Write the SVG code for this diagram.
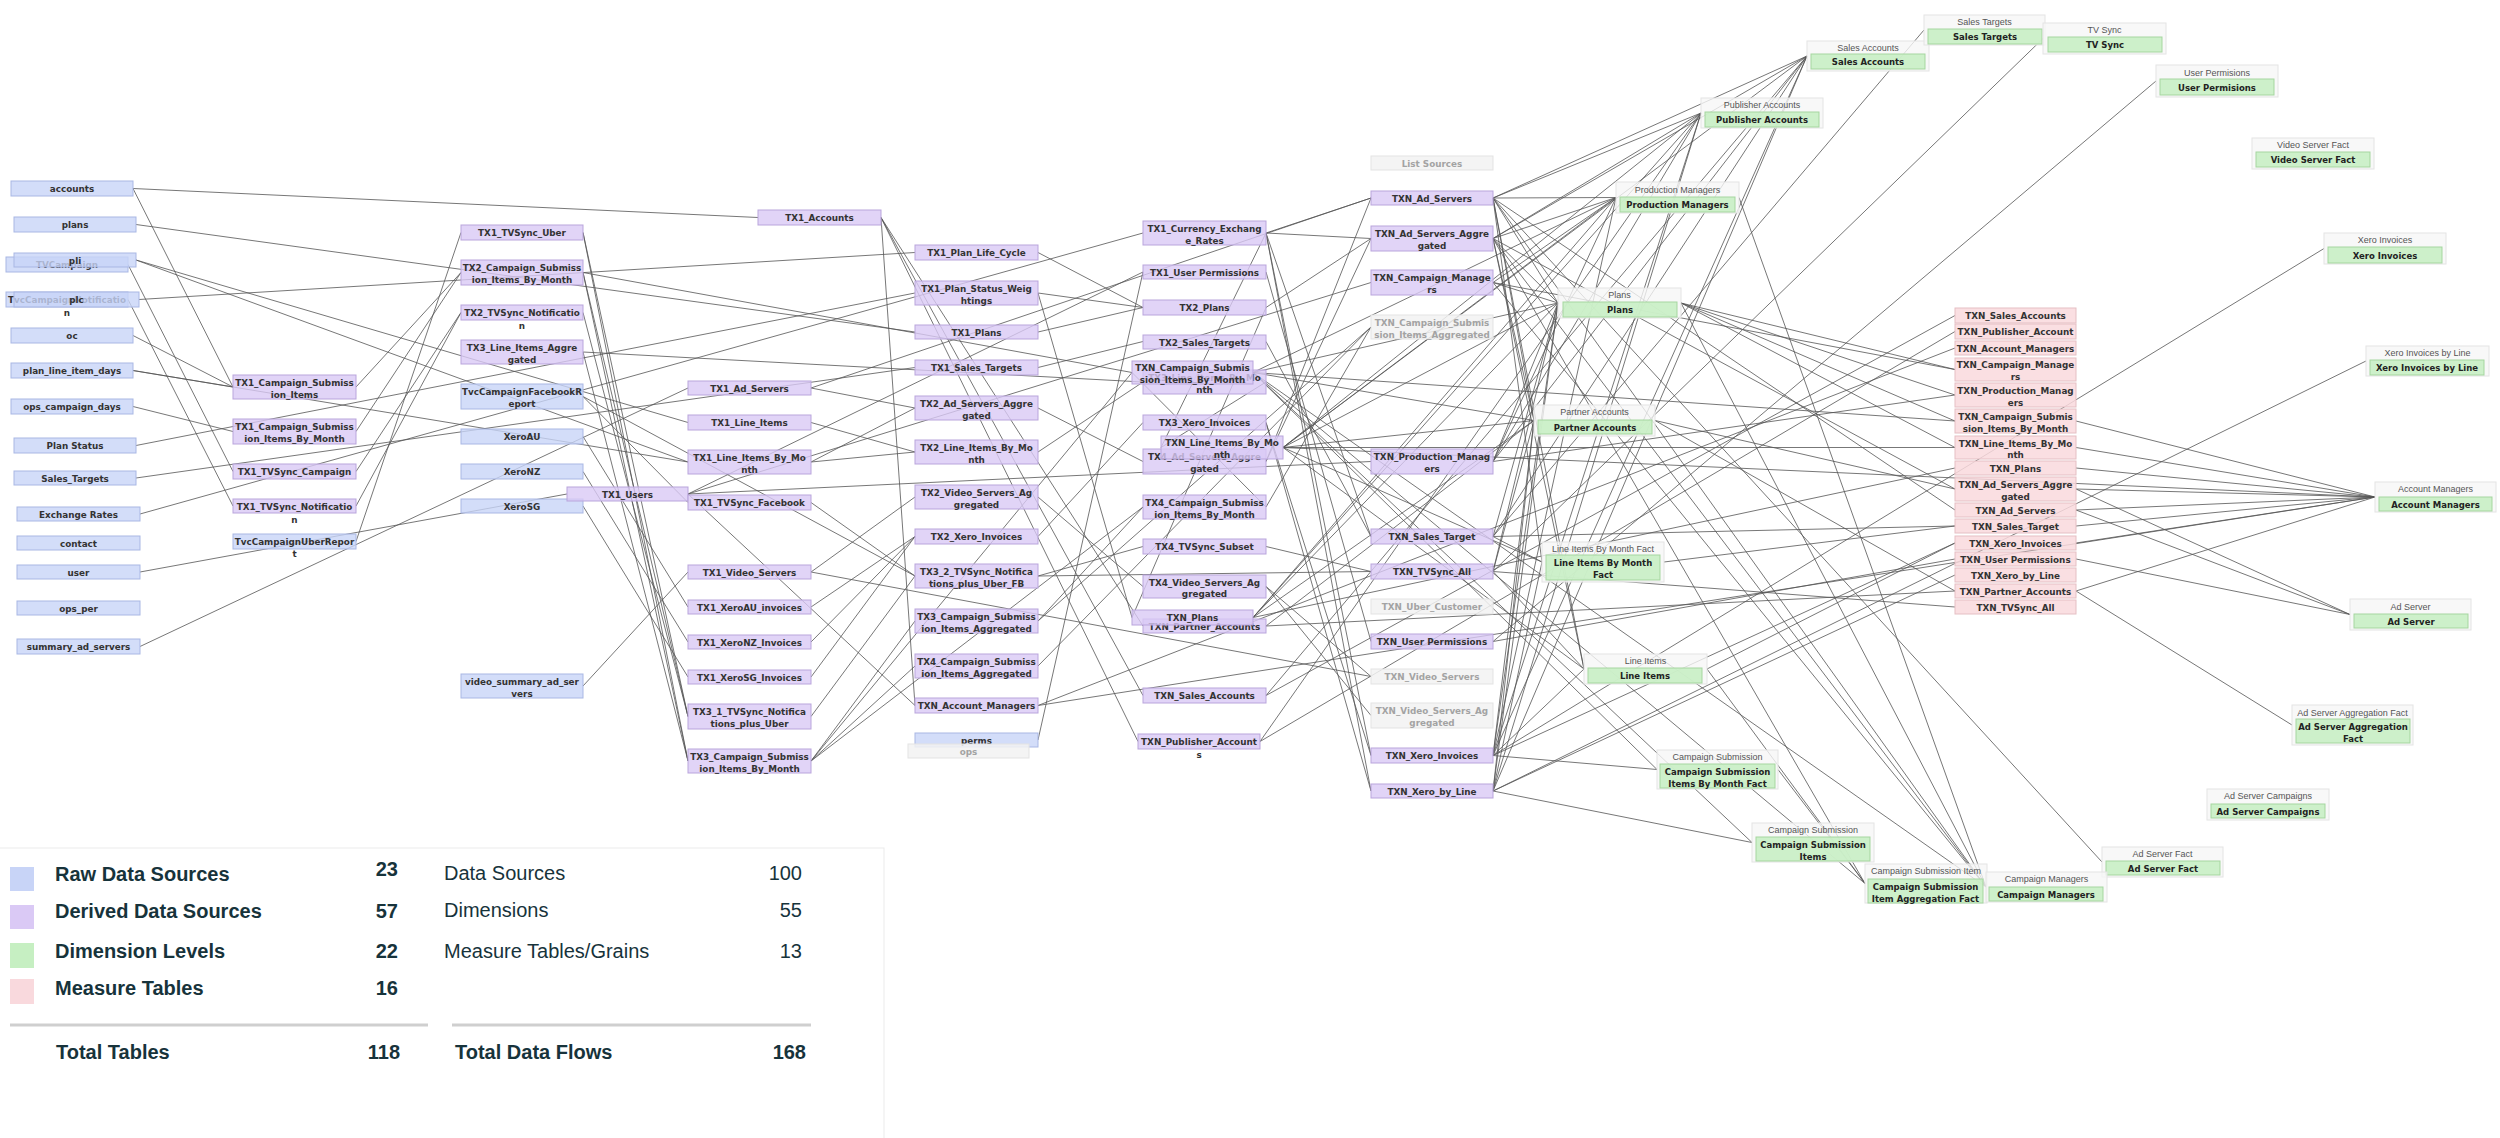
<svg xmlns="http://www.w3.org/2000/svg" width="2500" height="1138" viewBox="0 0 2500 1138">
<style>
.raw rect{fill:#c8d4f7;stroke:#a9b7e4;stroke-width:1;fill-opacity:.8}
.der rect{fill:#dac9f5;stroke:#b9a5dc;stroke-width:1;fill-opacity:.8}
.mea rect{fill:#f9d9dd;stroke:#e5bfc4;stroke-width:1;fill-opacity:.85}
.gry rect{fill:#f2f2f2;stroke:#e3e3e3;stroke-width:1;fill-opacity:.85}
.dim .o{fill:#f6f6f6;stroke:#e4e4e4;stroke-width:1;fill-opacity:.8}
.dim .i{fill:#c6efc2;stroke:#a5d69f;stroke-width:1;fill-opacity:.85}
text{font-family:"DejaVu Sans",Verdana,sans-serif;font-weight:bold;font-size:8.8px;fill:#333;text-anchor:middle}
.gry text{fill:#a3a3a3}
.dim text{font-size:8.5px;fill:#222}
.dim text.h{font-family:"Liberation Sans",Arial,sans-serif;font-weight:normal;font-size:9px;fill:#555}
.conn line{stroke:#555;stroke-width:1;stroke-opacity:.8}
.lg text{font-family:"Liberation Sans",Arial,sans-serif;fill:#17333b;text-anchor:start;font-size:20px}
.lg text.e{text-anchor:end}
.lg text.nb{font-weight:normal}
.lg .sep{stroke:#cfcfcf;stroke-width:3}
</style>
<rect x="0" y="0" width="2500" height="1138" fill="#ffffff"/>

<g id="connectors" class="conn">
<line x1="133" y1="188.5" x2="758" y2="217.5"/>
<line x1="133" y1="188.5" x2="233" y2="387"/>
<line x1="136" y1="224.5" x2="915" y2="332"/>
<line x1="136" y1="260" x2="688" y2="422.5"/>
<line x1="136" y1="260" x2="688" y2="462"/>
<line x1="128" y1="264.5" x2="233" y2="471.5"/>
<line x1="128" y1="299.5" x2="233" y2="506"/>
<line x1="139" y1="299.5" x2="915" y2="252.5"/>
<line x1="133" y1="335.5" x2="233" y2="387"/>
<line x1="133" y1="370.5" x2="233" y2="387"/>
<line x1="133" y1="370.5" x2="688" y2="462"/>
<line x1="133" y1="406.5" x2="233" y2="431.5"/>
<line x1="136" y1="445.5" x2="915" y2="293"/>
<line x1="136" y1="478" x2="915" y2="367.5"/>
<line x1="140" y1="514" x2="1143" y2="233"/>
<line x1="140" y1="572" x2="567" y2="494"/>
<line x1="140" y1="646.5" x2="688" y2="388"/>
<line x1="356" y1="541.5" x2="461" y2="232.5"/>
<line x1="583" y1="396.5" x2="688" y2="502.5"/>
<line x1="583" y1="396.5" x2="915" y2="576"/>
<line x1="583" y1="436.5" x2="688" y2="607"/>
<line x1="583" y1="471.5" x2="688" y2="642"/>
<line x1="583" y1="506" x2="688" y2="677"/>
<line x1="583" y1="686" x2="688" y2="572"/>
<line x1="1038" y1="740" x2="1143" y2="272"/>
<line x1="356" y1="387" x2="461" y2="272.5"/>
<line x1="356" y1="431.5" x2="461" y2="272.5"/>
<line x1="356" y1="471.5" x2="461" y2="312.5"/>
<line x1="356" y1="506" x2="461" y2="312.5"/>
<line x1="583" y1="232.5" x2="688" y2="716.5"/>
<line x1="583" y1="312.5" x2="688" y2="716.5"/>
<line x1="583" y1="272.5" x2="688" y2="761"/>
<line x1="583" y1="352" x2="688" y2="761"/>
<line x1="583" y1="272.5" x2="1132" y2="372.5"/>
<line x1="583" y1="352" x2="1143" y2="382"/>
<line x1="583" y1="272.5" x2="688" y2="716.5"/>
<line x1="583" y1="232.5" x2="688" y2="761"/>
<line x1="688" y1="494" x2="1143" y2="272"/>
<line x1="688" y1="494" x2="1371" y2="461.5"/>
<line x1="688" y1="494" x2="1371" y2="282.5"/>
<line x1="688" y1="494" x2="915" y2="705.5"/>
<line x1="881" y1="217.5" x2="915" y2="705.5"/>
<line x1="881" y1="217.5" x2="1143" y2="695.5"/>
<line x1="881" y1="217.5" x2="1138" y2="741.5"/>
<line x1="881" y1="217.5" x2="1143" y2="626"/>
<line x1="811" y1="388" x2="915" y2="408"/>
<line x1="811" y1="388" x2="1371" y2="198"/>
<line x1="811" y1="422.5" x2="915" y2="452"/>
<line x1="811" y1="462" x2="915" y2="452"/>
<line x1="811" y1="462" x2="915" y2="408"/>
<line x1="811" y1="502.5" x2="915" y2="576"/>
<line x1="811" y1="572" x2="915" y2="497"/>
<line x1="811" y1="572" x2="1371" y2="676.5"/>
<line x1="811" y1="607" x2="915" y2="536.5"/>
<line x1="811" y1="642" x2="915" y2="536.5"/>
<line x1="811" y1="677" x2="915" y2="536.5"/>
<line x1="811" y1="716.5" x2="915" y2="576"/>
<line x1="811" y1="761" x2="915" y2="621"/>
<line x1="811" y1="761" x2="1143" y2="507"/>
<line x1="811" y1="761" x2="1132" y2="372.5"/>
<line x1="811" y1="761" x2="915" y2="666"/>
<line x1="1038" y1="252.5" x2="1143" y2="307.5"/>
<line x1="1038" y1="293" x2="1143" y2="307.5"/>
<line x1="1038" y1="332" x2="1143" y2="307.5"/>
<line x1="1038" y1="367.5" x2="1143" y2="341.5"/>
<line x1="1038" y1="408" x2="1143" y2="461.5"/>
<line x1="1038" y1="452" x2="1143" y2="382"/>
<line x1="1038" y1="497" x2="1143" y2="586.5"/>
<line x1="1038" y1="536.5" x2="1143" y2="422.5"/>
<line x1="1038" y1="576" x2="1143" y2="546.5"/>
<line x1="1038" y1="576" x2="1371" y2="571.5"/>
<line x1="1038" y1="621" x2="1143" y2="507"/>
<line x1="1038" y1="621" x2="1371" y2="327"/>
<line x1="1038" y1="666" x2="1371" y2="327"/>
<line x1="1038" y1="705.5" x2="1955" y2="348"/>
<line x1="1038" y1="705.5" x2="2375" y2="497"/>
<line x1="1038" y1="293" x2="1132" y2="617.5"/>
<line x1="1266" y1="233" x2="1371" y2="198"/>
<line x1="1266" y1="233" x2="1371" y2="238.5"/>
<line x1="1266" y1="233" x2="1371" y2="536.5"/>
<line x1="1266" y1="233" x2="1371" y2="755.5"/>
<line x1="1266" y1="233" x2="1371" y2="791"/>
<line x1="1266" y1="233" x2="1161" y2="447.5"/>
<line x1="1266" y1="272" x2="1371" y2="641.5"/>
<line x1="1266" y1="307.5" x2="1132" y2="617.5"/>
<line x1="1266" y1="307.5" x2="1371" y2="238.5"/>
<line x1="1266" y1="341.5" x2="1371" y2="536.5"/>
<line x1="1266" y1="382" x2="1161" y2="447.5"/>
<line x1="1266" y1="422.5" x2="1371" y2="755.5"/>
<line x1="1266" y1="422.5" x2="1371" y2="791"/>
<line x1="1266" y1="461.5" x2="1371" y2="238.5"/>
<line x1="1266" y1="461.5" x2="1371" y2="198"/>
<line x1="1266" y1="507" x2="1132" y2="372.5"/>
<line x1="1266" y1="507" x2="1371" y2="327"/>
<line x1="1266" y1="546.5" x2="1371" y2="571.5"/>
<line x1="1266" y1="586.5" x2="1371" y2="715.5"/>
<line x1="1266" y1="586.5" x2="1371" y2="676.5"/>
<line x1="1283" y1="447.5" x2="1955" y2="447.5"/>
<line x1="1283" y1="447.5" x2="1616" y2="197.5"/>
<line x1="1283" y1="447.5" x2="1558" y2="303"/>
<line x1="1283" y1="447.5" x2="1534" y2="420.5"/>
<line x1="1283" y1="447.5" x2="1542" y2="562"/>
<line x1="1283" y1="447.5" x2="1584" y2="669"/>
<line x1="1283" y1="447.5" x2="1701" y2="113"/>
<line x1="1283" y1="447.5" x2="1807" y2="56"/>
<line x1="1283" y1="447.5" x2="2375" y2="497"/>
<line x1="1253" y1="372.5" x2="1955" y2="421"/>
<line x1="1253" y1="372.5" x2="1657" y2="769.5"/>
<line x1="1253" y1="372.5" x2="1616" y2="197.5"/>
<line x1="1253" y1="372.5" x2="1558" y2="303"/>
<line x1="1253" y1="372.5" x2="1534" y2="420.5"/>
<line x1="1253" y1="372.5" x2="1752" y2="842.5"/>
<line x1="1253" y1="372.5" x2="1865" y2="883.5"/>
<line x1="1253" y1="372.5" x2="1986" y2="887"/>
<line x1="1253" y1="617.5" x2="1955" y2="468"/>
<line x1="1253" y1="617.5" x2="1558" y2="303"/>
<line x1="1253" y1="617.5" x2="1534" y2="420.5"/>
<line x1="1253" y1="617.5" x2="1616" y2="197.5"/>
<line x1="1253" y1="617.5" x2="1701" y2="113"/>
<line x1="1266" y1="626" x2="1955" y2="591"/>
<line x1="1266" y1="626" x2="1534" y2="420.5"/>
<line x1="1266" y1="695.5" x2="1955" y2="315.5"/>
<line x1="1266" y1="695.5" x2="1807" y2="56"/>
<line x1="1260" y1="741.5" x2="1955" y2="331.5"/>
<line x1="1260" y1="741.5" x2="1701" y2="113"/>
<line x1="1493" y1="198" x2="1955" y2="510"/>
<line x1="1493" y1="198" x2="2102" y2="862"/>
<line x1="1493" y1="198" x2="1616" y2="197.5"/>
<line x1="1493" y1="198" x2="1558" y2="303"/>
<line x1="1493" y1="198" x2="1534" y2="420.5"/>
<line x1="1493" y1="198" x2="1701" y2="113"/>
<line x1="1493" y1="198" x2="1807" y2="56"/>
<line x1="1493" y1="198" x2="1584" y2="669"/>
<line x1="1493" y1="198" x2="1542" y2="562"/>
<line x1="1493" y1="198" x2="1986" y2="887"/>
<line x1="1493" y1="238.5" x2="1955" y2="489"/>
<line x1="1493" y1="238.5" x2="1616" y2="197.5"/>
<line x1="1493" y1="238.5" x2="1558" y2="303"/>
<line x1="1493" y1="238.5" x2="1534" y2="420.5"/>
<line x1="1493" y1="238.5" x2="1701" y2="113"/>
<line x1="1493" y1="238.5" x2="1807" y2="56"/>
<line x1="1493" y1="238.5" x2="1584" y2="669"/>
<line x1="1493" y1="238.5" x2="1865" y2="883.5"/>
<line x1="1493" y1="238.5" x2="1986" y2="887"/>
<line x1="1493" y1="282.5" x2="1955" y2="369.5"/>
<line x1="1493" y1="282.5" x2="1616" y2="197.5"/>
<line x1="1493" y1="282.5" x2="1558" y2="303"/>
<line x1="1493" y1="282.5" x2="1986" y2="887"/>
<line x1="1493" y1="461.5" x2="1955" y2="395"/>
<line x1="1493" y1="461.5" x2="1616" y2="197.5"/>
<line x1="1493" y1="461.5" x2="1558" y2="303"/>
<line x1="1493" y1="461.5" x2="1701" y2="113"/>
<line x1="1493" y1="461.5" x2="1807" y2="56"/>
<line x1="1493" y1="536.5" x2="1955" y2="526"/>
<line x1="1493" y1="536.5" x2="1924" y2="30"/>
<line x1="1493" y1="536.5" x2="1807" y2="56"/>
<line x1="1493" y1="536.5" x2="1558" y2="303"/>
<line x1="1493" y1="536.5" x2="1542" y2="562"/>
<line x1="1493" y1="571.5" x2="1955" y2="607"/>
<line x1="1493" y1="571.5" x2="2043" y2="38.5"/>
<line x1="1493" y1="571.5" x2="1558" y2="303"/>
<line x1="1493" y1="571.5" x2="1534" y2="420.5"/>
<line x1="1493" y1="571.5" x2="1584" y2="669"/>
<line x1="1493" y1="641.5" x2="1955" y2="559"/>
<line x1="1493" y1="641.5" x2="2156" y2="81"/>
<line x1="1493" y1="755.5" x2="1955" y2="543"/>
<line x1="1493" y1="755.5" x2="2324" y2="248.5"/>
<line x1="1493" y1="755.5" x2="1558" y2="303"/>
<line x1="1493" y1="755.5" x2="1534" y2="420.5"/>
<line x1="1493" y1="755.5" x2="1584" y2="669"/>
<line x1="1493" y1="755.5" x2="1657" y2="769.5"/>
<line x1="1493" y1="755.5" x2="1616" y2="197.5"/>
<line x1="1493" y1="755.5" x2="1807" y2="56"/>
<line x1="1493" y1="755.5" x2="1701" y2="113"/>
<line x1="1493" y1="791" x2="1955" y2="575"/>
<line x1="1493" y1="791" x2="2366" y2="361"/>
<line x1="1493" y1="791" x2="1558" y2="303"/>
<line x1="1493" y1="791" x2="1534" y2="420.5"/>
<line x1="1493" y1="791" x2="1542" y2="562"/>
<line x1="1493" y1="791" x2="1752" y2="842.5"/>
<line x1="1493" y1="791" x2="1807" y2="56"/>
<line x1="1493" y1="791" x2="1701" y2="113"/>
<line x1="1681" y1="303" x2="1955" y2="369.5"/>
<line x1="1681" y1="303" x2="1955" y2="395"/>
<line x1="1681" y1="303" x2="1955" y2="421"/>
<line x1="1681" y1="303" x2="1955" y2="447.5"/>
<line x1="1681" y1="303" x2="1986" y2="887"/>
<line x1="1655" y1="420.5" x2="1955" y2="489"/>
<line x1="1655" y1="420.5" x2="1955" y2="591"/>
<line x1="1664" y1="562" x2="1955" y2="526"/>
<line x1="1707" y1="669" x2="1955" y2="543"/>
<line x1="1707" y1="669" x2="1865" y2="883.5"/>
<line x1="1778" y1="769.5" x2="1865" y2="883.5"/>
<line x1="1739" y1="197.5" x2="1986" y2="887"/>
<line x1="2076" y1="468" x2="2375" y2="497"/>
<line x1="2076" y1="489" x2="2375" y2="497"/>
<line x1="2076" y1="489" x2="2350" y2="614.5"/>
<line x1="2076" y1="510" x2="2375" y2="497"/>
<line x1="2076" y1="510" x2="2350" y2="614.5"/>
<line x1="2076" y1="543" x2="2375" y2="497"/>
<line x1="2076" y1="559" x2="2350" y2="614.5"/>
<line x1="2076" y1="591" x2="2375" y2="497"/>
<line x1="2076" y1="591" x2="2292" y2="725"/>
<line x1="2076" y1="447.5" x2="2375" y2="497"/>
<line x1="2076" y1="421" x2="2375" y2="497"/>
<line x1="2076" y1="526" x2="2375" y2="497"/>
</g>

<g id="nodes">
<g id="n-TVCampaign" class="raw"><rect x="6" y="257" width="122" height="15"/><text x="67" y="268">TVCampaign</text></g>
<g id="n-TvcCampaignNotification" class="raw"><rect x="6" y="292" width="122" height="15"/><text x="67" y="302.5">TvcCampaignNotificatio</text><text x="67" y="316">n</text></g>
<g id="n-accounts" class="raw"><rect x="11" y="181" width="122" height="15"/><text x="72" y="192">accounts</text></g>
<g id="n-plans" class="raw"><rect x="14" y="217" width="122" height="15"/><text x="75" y="228">plans</text></g>
<g id="n-pli" class="raw"><rect x="14" y="253" width="122" height="14"/><text x="75" y="263.5">pli</text></g>
<g id="n-plc" class="raw"><rect x="14" y="292" width="125" height="15"/><text x="76.5" y="302.5">plc</text></g>
<g id="n-oc" class="raw"><rect x="11" y="328" width="122" height="15"/><text x="72" y="339">oc</text></g>
<g id="n-plan_line_item_days" class="raw"><rect x="11" y="363" width="122" height="15"/><text x="72" y="374">plan_line_item_days</text></g>
<g id="n-ops_campaign_days" class="raw"><rect x="11" y="399" width="122" height="15"/><text x="72" y="410">ops_campaign_days</text></g>
<g id="n-plan_status" class="raw"><rect x="14" y="438" width="122" height="15"/><text x="75" y="449">Plan Status</text></g>
<g id="n-sales_targets_raw" class="raw"><rect x="14" y="471" width="122" height="14"/><text x="75" y="481.5">Sales_Targets</text></g>
<g id="n-exchange_rates" class="raw"><rect x="17" y="507" width="123" height="14"/><text x="78.5" y="517.5">Exchange Rates</text></g>
<g id="n-contact" class="raw"><rect x="17" y="536" width="123" height="14"/><text x="78.5" y="546.5">contact</text></g>
<g id="n-user" class="raw"><rect x="17" y="565" width="123" height="14"/><text x="78.5" y="575.5">user</text></g>
<g id="n-ops_per" class="raw"><rect x="17" y="601" width="123" height="14"/><text x="78.5" y="611.5">ops_per</text></g>
<g id="n-summary_ad_servers" class="raw"><rect x="17" y="639" width="123" height="15"/><text x="78.5" y="650">summary_ad_servers</text></g>
<g id="n-TvcCampaignUberReport" class="raw"><rect x="233" y="534" width="123" height="15"/><text x="294.5" y="544.5">TvcCampaignUberRepor</text><text x="294.5" y="557">t</text></g>
<g id="n-TvcCampaignFacebookReport" class="raw"><rect x="461" y="384" width="122" height="25"/><text x="522" y="394.5">TvcCampaignFacebookR</text><text x="522" y="406.5">eport</text></g>
<g id="n-XeroAU" class="raw"><rect x="461" y="429" width="122" height="15"/><text x="522" y="440">XeroAU</text></g>
<g id="n-XeroNZ" class="raw"><rect x="461" y="464" width="122" height="15"/><text x="522" y="475">XeroNZ</text></g>
<g id="n-XeroSG" class="raw"><rect x="461" y="499" width="122" height="14"/><text x="522" y="509.5">XeroSG</text></g>
<g id="n-video_summary_ad_servers" class="raw"><rect x="461" y="674" width="122" height="24"/><text x="522" y="684.5">video_summary_ad_ser</text><text x="522" y="696.5">vers</text></g>
<g id="n-perms" class="raw"><rect x="915" y="733" width="123" height="14"/><text x="976.5" y="743.5">perms</text></g>

<g id="n-TX1_Campaign_Submission_Items" class="der"><rect x="233" y="375" width="123" height="24"/><text x="294.5" y="385.5">TX1_Campaign_Submiss</text><text x="294.5" y="397.5">ion_Items</text></g>
<g id="n-TX1_Campaign_Submission_Items_By_Month" class="der"><rect x="233" y="419" width="123" height="25"/><text x="294.5" y="429.5">TX1_Campaign_Submiss</text><text x="294.5" y="441.5">ion_Items_By_Month</text></g>
<g id="n-TX1_TVSync_Campaign" class="der"><rect x="233" y="464" width="123" height="15"/><text x="294.5" y="475">TX1_TVSync_Campaign</text></g>
<g id="n-TX1_TVSync_Notification" class="der"><rect x="233" y="499" width="123" height="14"/><text x="294.5" y="509.5">TX1_TVSync_Notificatio</text><text x="294.5" y="522.5">n</text></g>
<g id="n-TX1_TVSync_Uber" class="der"><rect x="461" y="225" width="122" height="15"/><text x="522" y="236">TX1_TVSync_Uber</text></g>
<g id="n-TX2_Campaign_Submission_Items_By_Month" class="der"><rect x="461" y="260" width="122" height="25"/><text x="522" y="270.5">TX2_Campaign_Submiss</text><text x="522" y="282.5">ion_Items_By_Month</text></g>
<g id="n-TX2_TVSync_Notification" class="der"><rect x="461" y="305" width="122" height="15"/><text x="522" y="316">TX2_TVSync_Notificatio</text><text x="522" y="328.5">n</text></g>
<g id="n-TX3_Line_Items_Aggregated" class="der"><rect x="461" y="340" width="122" height="24"/><text x="522" y="350.5">TX3_Line_Items_Aggre</text><text x="522" y="362.5">gated</text></g>
<g id="n-TX1_Users" class="der"><rect x="567" y="487" width="121" height="14"/><text x="627.5" y="497.5">TX1_Users</text></g>
<g id="n-TX1_Accounts" class="der"><rect x="758" y="210" width="123" height="15"/><text x="819.5" y="221">TX1_Accounts</text></g>
<g id="n-TX1_Ad_Servers" class="der"><rect x="688" y="381" width="123" height="14"/><text x="749.5" y="391.5">TX1_Ad_Servers</text></g>
<g id="n-TX1_Line_Items" class="der"><rect x="688" y="415" width="123" height="15"/><text x="749.5" y="426">TX1_Line_Items</text></g>
<g id="n-TX1_Line_Items_By_Month" class="der"><rect x="688" y="450" width="123" height="24"/><text x="749.5" y="460.5">TX1_Line_Items_By_Mo</text><text x="749.5" y="472.5">nth</text></g>
<g id="n-TX1_TVSync_Facebook" class="der"><rect x="688" y="495" width="123" height="15"/><text x="749.5" y="506">TX1_TVSync_Facebook</text></g>
<g id="n-TX1_Video_Servers" class="der"><rect x="688" y="565" width="123" height="14"/><text x="749.5" y="575.5">TX1_Video_Servers</text></g>
<g id="n-TX1_XeroAU_invoices" class="der"><rect x="688" y="600" width="123" height="14"/><text x="749.5" y="610.5">TX1_XeroAU_invoices</text></g>
<g id="n-TX1_XeroNZ_Invoices" class="der"><rect x="688" y="635" width="123" height="14"/><text x="749.5" y="645.5">TX1_XeroNZ_Invoices</text></g>
<g id="n-TX1_XeroSG_Invoices" class="der"><rect x="688" y="670" width="123" height="14"/><text x="749.5" y="680.5">TX1_XeroSG_Invoices</text></g>
<g id="n-TX3_1_TVSync_Notifications_plus_Uber" class="der"><rect x="688" y="704" width="123" height="25"/><text x="749.5" y="714.5">TX3_1_TVSync_Notifica</text><text x="749.5" y="726.5">tions_plus_Uber</text></g>
<g id="n-TX3_Campaign_Submission_Items_By_Month" class="der"><rect x="688" y="749" width="123" height="24"/><text x="749.5" y="759.5">TX3_Campaign_Submiss</text><text x="749.5" y="771.5">ion_Items_By_Month</text></g>
<g id="n-TX1_Plan_Life_Cycle" class="der"><rect x="915" y="245" width="123" height="15"/><text x="976.5" y="256">TX1_Plan_Life_Cycle</text></g>
<g id="n-TX1_Plan_Status_Weightings" class="der"><rect x="915" y="281" width="123" height="24"/><text x="976.5" y="291.5">TX1_Plan_Status_Weig</text><text x="976.5" y="303.5">htings</text></g>
<g id="n-TX1_Plans" class="der"><rect x="915" y="325" width="123" height="14"/><text x="976.5" y="335.5">TX1_Plans</text></g>
<g id="n-TX1_Sales_Targets" class="der"><rect x="915" y="360" width="123" height="15"/><text x="976.5" y="371">TX1_Sales_Targets</text></g>
<g id="n-TX2_Ad_Servers_Aggregated" class="der"><rect x="915" y="396" width="123" height="24"/><text x="976.5" y="406.5">TX2_Ad_Servers_Aggre</text><text x="976.5" y="418.5">gated</text></g>
<g id="n-TX2_Line_Items_By_Month" class="der"><rect x="915" y="440" width="123" height="24"/><text x="976.5" y="450.5">TX2_Line_Items_By_Mo</text><text x="976.5" y="462.5">nth</text></g>
<g id="n-TX2_Video_Servers_Aggregated" class="der"><rect x="915" y="485" width="123" height="24"/><text x="976.5" y="495.5">TX2_Video_Servers_Ag</text><text x="976.5" y="507.5">gregated</text></g>
<g id="n-TX2_Xero_Invoices" class="der"><rect x="915" y="529" width="123" height="15"/><text x="976.5" y="540">TX2_Xero_Invoices</text></g>
<g id="n-TX3_2_TVSync_Notifications_plus_Uber_FB" class="der"><rect x="915" y="564" width="123" height="24"/><text x="976.5" y="574.5">TX3_2_TVSync_Notifica</text><text x="976.5" y="586.5">tions_plus_Uber_FB</text></g>
<g id="n-TX3_Campaign_Submission_Items_Aggregated" class="der"><rect x="915" y="609" width="123" height="24"/><text x="976.5" y="619.5">TX3_Campaign_Submiss</text><text x="976.5" y="631.5">ion_Items_Aggregated</text></g>
<g id="n-TX4_Campaign_Submission_Items_Aggregated" class="der"><rect x="915" y="654" width="123" height="24"/><text x="976.5" y="664.5">TX4_Campaign_Submiss</text><text x="976.5" y="676.5">ion_Items_Aggregated</text></g>
<g id="n-TXN_Account_Managers" class="der"><rect x="915" y="698" width="123" height="15"/><text x="976.5" y="709">TXN_Account_Managers</text></g>
<g id="n-TX1_Currency_Exchange_Rates" class="der"><rect x="1143" y="221" width="123" height="24"/><text x="1204.5" y="231.5">TX1_Currency_Exchang</text><text x="1204.5" y="243.5">e_Rates</text></g>
<g id="n-TX1_User_Permissions" class="der"><rect x="1143" y="265" width="123" height="14"/><text x="1204.5" y="275.5">TX1_User Permissions</text></g>
<g id="n-TX2_Plans" class="der"><rect x="1143" y="300" width="123" height="15"/><text x="1204.5" y="311">TX2_Plans</text></g>
<g id="n-TX2_Sales_Targets" class="der"><rect x="1143" y="335" width="123" height="14"/><text x="1204.5" y="345.5">TX2_Sales_Targets</text></g>
<g id="n-TX3_Line_Items_By_Month" class="der"><rect x="1143" y="370" width="123" height="24"/><text x="1204.5" y="380.5">TX3_Line_Items_By_Mo</text><text x="1204.5" y="392.5">nth</text></g>
<g id="n-TXN_Campaign_Submission_Items_By_Month" class="der"><rect x="1132" y="361" width="121" height="23"/><text x="1192.5" y="371">TXN_Campaign_Submis</text><text x="1192.5" y="382.5">sion_Items_By_Month</text></g>
<g id="n-TX3_Xero_Invoices" class="der"><rect x="1143" y="415" width="123" height="15"/><text x="1204.5" y="426">TX3_Xero_Invoices</text></g>
<g id="n-TX4_Ad_Servers_Aggregated" class="der"><rect x="1143" y="449" width="123" height="25"/><text x="1204.5" y="459.5">TX4_Ad_Servers_Aggre</text><text x="1204.5" y="471.5">gated</text></g>
<g id="n-TXN_Line_Items_By_Month" class="der"><rect x="1161" y="436" width="122" height="23"/><text x="1222" y="446">TXN_Line_Items_By_Mo</text><text x="1222" y="457.5">nth</text></g>
<g id="n-TX4_Campaign_Submission_Items_By_Month" class="der"><rect x="1143" y="495" width="123" height="24"/><text x="1204.5" y="505.5">TX4_Campaign_Submiss</text><text x="1204.5" y="517.5">ion_Items_By_Month</text></g>
<g id="n-TX4_TVSync_Subset" class="der"><rect x="1143" y="539" width="123" height="15"/><text x="1204.5" y="550">TX4_TVSync_Subset</text></g>
<g id="n-TX4_Video_Servers_Aggregated" class="der"><rect x="1143" y="575" width="123" height="23"/><text x="1204.5" y="585.5">TX4_Video_Servers_Ag</text><text x="1204.5" y="597">gregated</text></g>
<g id="n-TXN_Partner_Accounts" class="der"><rect x="1143" y="619" width="123" height="14"/><text x="1204.5" y="629.5">TXN_Partner_Accounts</text></g>
<g id="n-TXN_Plans" class="der"><rect x="1132" y="610" width="121" height="15"/><text x="1192.5" y="621">TXN_Plans</text></g>
<g id="n-TXN_Sales_Accounts" class="der"><rect x="1143" y="688" width="123" height="15"/><text x="1204.5" y="699">TXN_Sales_Accounts</text></g>
<g id="n-TXN_Publisher_Accounts" class="der"><rect x="1138" y="734" width="122" height="15"/><text x="1199" y="745">TXN_Publisher_Account</text><text x="1199" y="757.5">s</text></g>
<g id="n-TXN_Ad_Servers" class="der"><rect x="1371" y="191" width="122" height="14"/><text x="1432" y="201.5">TXN_Ad_Servers</text></g>
<g id="n-TXN_Ad_Servers_Aggregated" class="der"><rect x="1371" y="226" width="122" height="25"/><text x="1432" y="236.5">TXN_Ad_Servers_Aggre</text><text x="1432" y="248.5">gated</text></g>
<g id="n-TXN_Campaign_Managers" class="der"><rect x="1371" y="270" width="122" height="25"/><text x="1432" y="280.5">TXN_Campaign_Manage</text><text x="1432" y="292.5">rs</text></g>
<g id="n-TXN_Production_Managers" class="der"><rect x="1371" y="449" width="122" height="25"/><text x="1432" y="459.5">TXN_Production_Manag</text><text x="1432" y="471.5">ers</text></g>
<g id="n-TXN_Sales_Target" class="der"><rect x="1371" y="529" width="122" height="15"/><text x="1432" y="540">TXN_Sales_Target</text></g>
<g id="n-TXN_TVSync_All" class="der"><rect x="1371" y="564" width="122" height="15"/><text x="1432" y="575">TXN_TVSync_All</text></g>
<g id="n-TXN_User_Permissions" class="der"><rect x="1371" y="634" width="122" height="15"/><text x="1432" y="645">TXN_User Permissions</text></g>
<g id="n-TXN_Xero_Invoices" class="der"><rect x="1371" y="748" width="122" height="15"/><text x="1432" y="759">TXN_Xero_Invoices</text></g>
<g id="n-TXN_Xero_by_Line" class="der"><rect x="1371" y="784" width="122" height="14"/><text x="1432" y="794.5">TXN_Xero_by_Line</text></g>

<g id="n-List_Sources" class="gry"><rect x="1371" y="156" width="122" height="14"/><text x="1432" y="166.5">List Sources</text></g>
<g id="n-TXN_Campaign_Submission_Items_Aggregated" class="gry"><rect x="1371" y="315" width="122" height="24"/><text x="1432" y="325.5">TXN_Campaign_Submis</text><text x="1432" y="337.5">sion_Items_Aggregated</text></g>
<g id="n-TXN_Uber_Customer" class="gry"><rect x="1371" y="599" width="122" height="15"/><text x="1432" y="610">TXN_Uber_Customer</text></g>
<g id="n-TXN_Video_Servers" class="gry"><rect x="1371" y="669" width="122" height="15"/><text x="1432" y="680">TXN_Video_Servers</text></g>
<g id="n-TXN_Video_Servers_Aggregated" class="gry"><rect x="1371" y="703" width="122" height="25"/><text x="1432" y="713.5">TXN_Video_Servers_Ag</text><text x="1432" y="725.5">gregated</text></g>
<g id="n-ops" class="gry"><rect x="908" y="744" width="121" height="14"/><text x="968.5" y="754.5">ops</text></g>

<g id="m-TXN_Sales_Accounts" class="mea"><rect x="1955" y="308" width="121" height="15"/><text x="2015.5" y="319">TXN_Sales_Accounts</text></g>
<g id="m-TXN_Publisher_Account" class="mea"><rect x="1955" y="324" width="121" height="15"/><text x="2015.5" y="335">TXN_Publisher_Account</text></g>
<g id="m-TXN_Account_Managers" class="mea"><rect x="1955" y="341" width="121" height="14"/><text x="2015.5" y="351.5">TXN_Account_Managers</text></g>
<g id="m-TXN_Campaign_Managers" class="mea"><rect x="1955" y="358" width="121" height="23"/><text x="2015.5" y="368">TXN_Campaign_Manage</text><text x="2015.5" y="380">rs</text></g>
<g id="m-TXN_Production_Managers" class="mea"><rect x="1955" y="383" width="121" height="24"/><text x="2015.5" y="394">TXN_Production_Manag</text><text x="2015.5" y="406">ers</text></g>
<g id="m-TXN_Campaign_Submission_Items_By_Month" class="mea"><rect x="1955" y="409" width="121" height="24"/><text x="2015.5" y="420">TXN_Campaign_Submis</text><text x="2015.5" y="432">sion_Items_By_Month</text></g>
<g id="m-TXN_Line_Items_By_Month" class="mea"><rect x="1955" y="436" width="121" height="23"/><text x="2015.5" y="446.5">TXN_Line_Items_By_Mo</text><text x="2015.5" y="458">nth</text></g>
<g id="m-TXN_Plans" class="mea"><rect x="1955" y="461" width="121" height="14"/><text x="2015.5" y="471.5">TXN_Plans</text></g>
<g id="m-TXN_Ad_Servers_Aggregated" class="mea"><rect x="1955" y="477" width="121" height="24"/><text x="2015.5" y="487.5">TXN_Ad_Servers_Aggre</text><text x="2015.5" y="499.5">gated</text></g>
<g id="m-TXN_Ad_Servers" class="mea"><rect x="1955" y="503" width="121" height="14"/><text x="2015.5" y="513.5">TXN_Ad_Servers</text></g>
<g id="m-TXN_Sales_Target" class="mea"><rect x="1955" y="519" width="121" height="14"/><text x="2015.5" y="529.5">TXN_Sales_Target</text></g>
<g id="m-TXN_Xero_Invoices" class="mea"><rect x="1955" y="536" width="121" height="14"/><text x="2015.5" y="546.5">TXN_Xero_Invoices</text></g>
<g id="m-TXN_User_Permissions" class="mea"><rect x="1955" y="552" width="121" height="14"/><text x="2015.5" y="562.5">TXN_User Permissions</text></g>
<g id="m-TXN_Xero_by_Line" class="mea"><rect x="1955" y="568" width="121" height="14"/><text x="2015.5" y="578.5">TXN_Xero_by_Line</text></g>
<g id="m-TXN_Partner_Accounts" class="mea"><rect x="1955" y="584" width="121" height="14"/><text x="2015.5" y="594.5">TXN_Partner_Accounts</text></g>
<g id="m-TXN_TVSync_All" class="mea"><rect x="1955" y="600" width="121" height="14"/><text x="2015.5" y="610.5">TXN_TVSync_All</text></g>

<g id="d-Sales_Accounts" class="dim"><rect class="o" x="1807" y="41" width="122" height="30"/><text class="h" x="1868" y="51">Sales Accounts</text><rect class="i" x="1811" y="54" width="114" height="15"/><text x="1868" y="65">Sales Accounts</text></g>
<g id="d-Sales_Targets" class="dim"><rect class="o" x="1924" y="15" width="121" height="30"/><text class="h" x="1984.5" y="25">Sales Targets</text><rect class="i" x="1928" y="29" width="114" height="15"/><text x="1985" y="40">Sales Targets</text></g>
<g id="d-TV_Sync" class="dim"><rect class="o" x="2043" y="23" width="123" height="31"/><text class="h" x="2104.5" y="33">TV Sync</text><rect class="i" x="2048" y="37" width="114" height="15"/><text x="2105" y="48">TV Sync</text></g>
<g id="d-Publisher_Accounts" class="dim"><rect class="o" x="1701" y="98" width="122" height="30"/><text class="h" x="1762" y="108">Publisher Accounts</text><rect class="i" x="1705" y="112" width="114" height="15"/><text x="1762" y="123">Publisher Accounts</text></g>
<g id="d-User_Permisions" class="dim"><rect class="o" x="2156" y="65" width="122" height="32"/><text class="h" x="2217" y="75.5">User Permisions</text><rect class="i" x="2160" y="79" width="114" height="16"/><text x="2217" y="90.5">User Permisions</text></g>
<g id="d-Video_Server_Fact" class="dim"><rect class="o" x="2252" y="138" width="122" height="31"/><text class="h" x="2313" y="148">Video Server Fact</text><rect class="i" x="2256" y="152" width="114" height="15"/><text x="2313" y="163">Video Server Fact</text></g>
<g id="d-Production_Managers" class="dim"><rect class="o" x="1616" y="182" width="123" height="31"/><text class="h" x="1677.5" y="193">Production Managers</text><rect class="i" x="1620" y="197" width="115" height="15"/><text x="1677.5" y="208">Production Managers</text></g>
<g id="d-Xero_Invoices" class="dim"><rect class="o" x="2324" y="233" width="122" height="31"/><text class="h" x="2385" y="243">Xero Invoices</text><rect class="i" x="2328" y="247" width="114" height="16"/><text x="2385" y="258.5">Xero Invoices</text></g>
<g id="d-Plans" class="dim"><rect class="o" x="1558" y="288" width="123" height="30"/><text class="h" x="1619.5" y="298">Plans</text><rect class="i" x="1563" y="302" width="114" height="15"/><text x="1620" y="313">Plans</text></g>
<g id="d-Xero_Invoices_by_Line" class="dim"><rect class="o" x="2366" y="346" width="123" height="30"/><text class="h" x="2427.5" y="356">Xero Invoices by Line</text><rect class="i" x="2370" y="360" width="114" height="15"/><text x="2427" y="371">Xero Invoices by Line</text></g>
<g id="d-Partner_Accounts" class="dim"><rect class="o" x="1534" y="405" width="121" height="31"/><text class="h" x="1594.5" y="415">Partner Accounts</text><rect class="i" x="1538" y="420" width="114" height="14"/><text x="1595" y="430.5">Partner Accounts</text></g>
<g id="d-Account_Managers" class="dim"><rect class="o" x="2375" y="482" width="121" height="30"/><text class="h" x="2435.5" y="492">Account Managers</text><rect class="i" x="2379" y="497" width="113" height="14"/><text x="2435.5" y="507.5">Account Managers</text></g>
<g id="d-Line_Items_By_Month_Fact" class="dim"><rect class="o" x="1542" y="542" width="122" height="40"/><text class="h" x="1603" y="551.5">Line Items By Month Fact</text><rect class="i" x="1546" y="555" width="114" height="25"/><text x="1603" y="566">Line Items By Month</text><text x="1603" y="578">Fact</text></g>
<g id="d-Ad_Server" class="dim"><rect class="o" x="2350" y="599" width="121" height="31"/><text class="h" x="2410.5" y="609.5">Ad Server</text><rect class="i" x="2354" y="614" width="114" height="14"/><text x="2411" y="624.5">Ad Server</text></g>
<g id="d-Line_Items" class="dim"><rect class="o" x="1584" y="654" width="123" height="30"/><text class="h" x="1645.5" y="664">Line Items</text><rect class="i" x="1588" y="668" width="114" height="15"/><text x="1645" y="679">Line Items</text></g>
<g id="d-Ad_Server_Aggregation_Fact" class="dim"><rect class="o" x="2292" y="705" width="121" height="40"/><text class="h" x="2352.5" y="715.5">Ad Server Aggregation Fact</text><rect class="i" x="2296" y="719" width="114" height="24"/><text x="2353" y="729.5">Ad Server Aggregation</text><text x="2353" y="741.5">Fact</text></g>
<g id="d-Campaign_Submission_Items_By_Month_Fact" class="dim"><rect class="o" x="1657" y="750" width="121" height="39"/><text class="h" x="1717.5" y="760">Campaign Submission</text><rect class="i" x="1660" y="764" width="115" height="24"/><text x="1717.5" y="774.5">Campaign Submission</text><text x="1717.5" y="786.5">Items By Month Fact</text></g>
<g id="d-Ad_Server_Campaigns" class="dim"><rect class="o" x="2207" y="789" width="122" height="31"/><text class="h" x="2268" y="799">Ad Server Campaigns</text><rect class="i" x="2211" y="804" width="114" height="14"/><text x="2268" y="814.5">Ad Server Campaigns</text></g>
<g id="d-Campaign_Submission_Items" class="dim"><rect class="o" x="1752" y="823" width="122" height="39"/><text class="h" x="1813" y="833">Campaign Submission</text><rect class="i" x="1756" y="837" width="114" height="24"/><text x="1813" y="847.5">Campaign Submission</text><text x="1813" y="859.5">Items</text></g>
<g id="d-Ad_Server_Fact" class="dim"><rect class="o" x="2102" y="847" width="121" height="30"/><text class="h" x="2162.5" y="857">Ad Server Fact</text><rect class="i" x="2106" y="861" width="114" height="14"/><text x="2163" y="871.5">Ad Server Fact</text></g>
<g id="d-Campaign_Submission_Item_Aggregation_Fact" class="dim"><rect class="o" x="1865" y="864" width="122" height="39"/><text class="h" x="1926" y="874">Campaign Submission Item</text><rect class="i" x="1868" y="879" width="115" height="24"/><text x="1925.5" y="889.5">Campaign Submission</text><text x="1925.5" y="901.5">Item Aggregation Fact</text></g>
<g id="d-Campaign_Managers" class="dim"><rect class="o" x="1986" y="872" width="121" height="30"/><text class="h" x="2046.5" y="882">Campaign Managers</text><rect class="i" x="1989" y="887" width="114" height="14"/><text x="2046" y="897.5">Campaign Managers</text></g>
</g>

<g id="legend" class="lg">
<rect x="-2" y="848" width="886" height="300" fill="#ffffff" stroke="#ebebeb"/>
<rect x="10" y="867" width="24" height="24" fill="#c8d4f7"/>
<rect x="10" y="905" width="24" height="24" fill="#dac9f5"/>
<rect x="10" y="943" width="24" height="25" fill="#c6efc2"/>
<rect x="10" y="979" width="24" height="25" fill="#f9d9dd"/>
<text x="55" y="881" font-weight="bold">Raw Data Sources</text>
<text class="e" x="398" y="876" font-weight="bold">23</text>
<text x="55" y="918" font-weight="bold">Derived Data Sources</text>
<text class="e" x="398" y="918" font-weight="bold">57</text>
<text x="55" y="958" font-weight="bold">Dimension Levels</text>
<text class="e" x="398" y="958" font-weight="bold">22</text>
<text x="55" y="995" font-weight="bold">Measure Tables</text>
<text class="e" x="398" y="995" font-weight="bold">16</text>
<line class="sep" x1="10" y1="1025" x2="428" y2="1025"/>
<text x="56" y="1059" font-weight="bold" font-size="21">Total Tables</text>
<text class="e" x="400" y="1059" font-weight="bold" font-size="21">118</text>
<text class="nb" x="444" y="880">Data Sources</text>
<text class="e nb" x="802" y="880">100</text>
<text class="nb" x="444" y="917">Dimensions</text>
<text class="e nb" x="802" y="917">55</text>
<text class="nb" x="444" y="958">Measure Tables/Grains</text>
<text class="e nb" x="802" y="958">13</text>
<line class="sep" x1="452" y1="1025" x2="811" y2="1025"/>
<text x="455" y="1059" font-weight="bold" font-size="21">Total Data Flows</text>
<text class="e" x="806" y="1059" font-weight="bold" font-size="21">168</text>
</g>
</svg>
